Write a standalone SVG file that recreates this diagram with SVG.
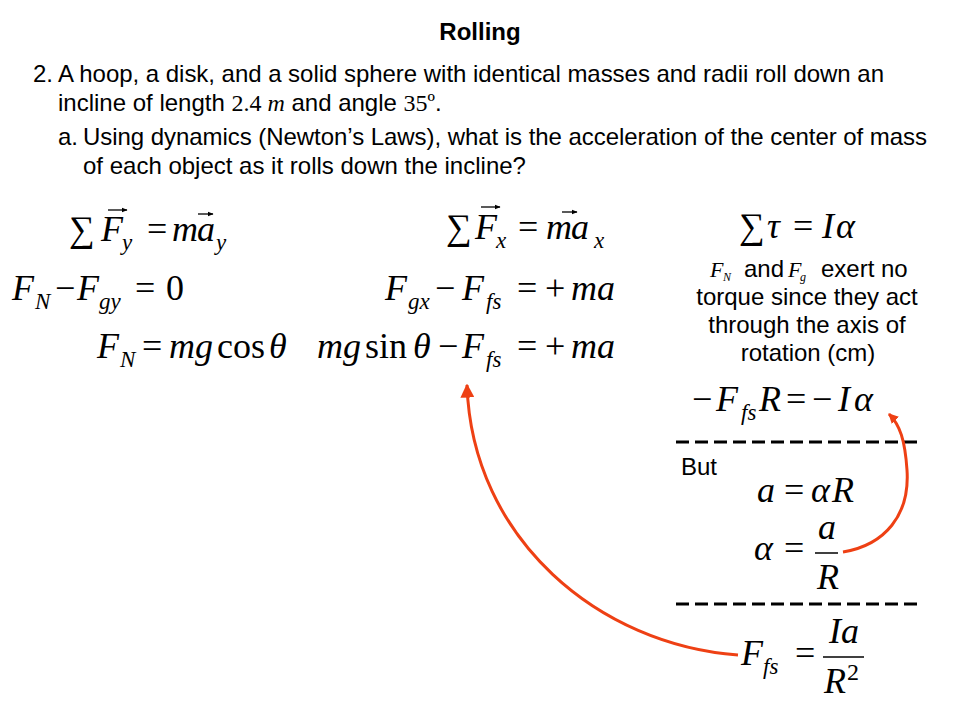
<svg xmlns="http://www.w3.org/2000/svg" width="960" height="720" viewBox="0 0 960 720">
<defs>
<style>
.t{font-family:"Liberation Sans",Arial,sans-serif;font-size:24px;fill:#000}
.b{font-weight:bold}
.tm{font-family:"Liberation Serif","Times New Roman",serif}
.m{font-family:"Liberation Serif","Times New Roman",serif;font-size:36px;font-style:italic;fill:#000}
.n{font-style:normal}
.s{font-size:23px}
.v{stroke:#000;stroke-width:1.3;fill:none}
.dash{stroke:#000;stroke-width:3;stroke-dasharray:13 6;fill:none}
.red{stroke:#EE4014;stroke-width:3;fill:none}
</style>
<marker id="ah" viewBox="0 0 10 10" refX="9" refY="5" markerWidth="14" markerHeight="14" markerUnits="userSpaceOnUse" orient="auto">
<path d="M0,0 L10,5 L0,10 z" fill="#EE4014"/>
</marker>
<marker id="ah2" viewBox="0 0 10 10" refX="9" refY="5" markerWidth="10" markerHeight="10" markerUnits="userSpaceOnUse" orient="auto">
<path d="M0,0 L10,5 L0,10 z" fill="#EE4014"/>
</marker>
<marker id="va" viewBox="0 0 10 10" refX="9" refY="5" markerWidth="6" markerHeight="6" markerUnits="userSpaceOnUse" orient="auto">
<path d="M0,1 L10,5 L0,9 z" fill="#000"/>
</marker>
</defs>
<rect width="960" height="720" fill="#fff"/>

<g id="header">
<text class="t b" x="480" y="40" text-anchor="middle">Rolling</text>
<text class="t" x="33" y="82">2.</text>
<text class="t" x="58" y="82" textLength="826">A hoop, a disk, and a solid sphere with identical masses and radii roll down an</text>
<text class="t" x="58" y="111">incline of length <tspan class="tm">2.4 </tspan><tspan class="tm" font-style="italic">m</tspan> and angle <tspan class="tm">35º</tspan>.</text>
<text class="t" x="58" y="145">a.</text>
<text class="t" x="83" y="145" textLength="844">Using dynamics (Newton’s Laws), what is the acceleration of the center of mass</text>
<text class="t" x="83" y="174">of each object as it rolls down the incline?</text>
</g>

<g id="eq-sum-fy">
<text class="m" y="241"><tspan class="n" x="69">∑</tspan><tspan x="101">F</tspan><tspan class="s" x="122" y="250">y</tspan><tspan class="n" x="147" y="241">=</tspan><tspan x="172">m</tspan><tspan x="197">a</tspan><tspan class="s" x="216" y="250">y</tspan></text>
<path class="v" d="M108,210 H127" marker-end="url(#va)"/>
<path class="v" d="M198,214 H213" marker-end="url(#va)"/>
</g>

<g id="eq-fn-fgy">
<text class="m" y="300"><tspan x="12">F</tspan><tspan class="s" x="35" y="309">N</tspan><tspan class="n" x="55" y="300">−</tspan><tspan x="77">F</tspan><tspan class="s" x="99" y="309">gy</tspan><tspan class="n" x="135" y="300">=</tspan><tspan class="n" x="166">0</tspan></text>
</g>

<g id="eq-fn">
<text class="m" y="358"><tspan x="97">F</tspan><tspan class="s" x="120" y="367">N</tspan><tspan class="n" x="142" y="358">=</tspan><tspan x="169">mg</tspan><tspan class="n" x="217">cos</tspan><tspan x="269">θ</tspan></text>
</g>

<g id="eq-sum-fx">
<text class="m" y="239"><tspan class="n" x="446">∑</tspan><tspan x="475">F</tspan><tspan class="s" x="496" y="248">x</tspan><tspan class="n" x="518" y="239">=</tspan><tspan x="546">m</tspan><tspan x="571">a</tspan><tspan class="s" x="594" y="248">x</tspan></text>
<path class="v" d="M481,207 H500" marker-end="url(#va)"/>
<path class="v" d="M562,212 H577" marker-end="url(#va)"/>
</g>

<g id="eq-fgx">
<text class="m" y="300"><tspan x="385">F</tspan><tspan class="s" x="408" y="309">gx</tspan><tspan class="n" x="435" y="300">−</tspan><tspan x="462">F</tspan><tspan class="s" x="486" y="309">fs</tspan><tspan class="n" x="517" y="300">=</tspan><tspan class="n" x="545">+</tspan><tspan x="571">ma</tspan></text>
</g>

<g id="eq-mgsin">
<text class="m" y="358"><tspan x="317">mg</tspan><tspan class="n" x="365">sin</tspan><tspan x="413">θ</tspan><tspan class="n" x="438">−</tspan><tspan x="462">F</tspan><tspan class="s" x="486" y="367">fs</tspan><tspan class="n" x="517" y="358">=</tspan><tspan class="n" x="545">+</tspan><tspan x="571">ma</tspan></text>
</g>

<g id="eq-torque">
<text class="m" y="238"><tspan class="n" x="739">∑</tspan><tspan x="767">τ</tspan><tspan class="n" x="793">=</tspan><tspan x="822">I</tspan><tspan x="836">α</tspan></text>
</g>

<g id="note">
<text class="t" y="277"><tspan class="m" style="font-size:22px" x="710">F</tspan><tspan class="m" style="font-size:12px" x="723" y="281">N</tspan><tspan x="744" y="277">and</tspan><tspan class="m" style="font-size:22px" x="788">F</tspan><tspan class="m" style="font-size:12px" x="800" y="281">g</tspan><tspan x="821" y="277">exert no</tspan></text>
<text class="t" x="807" y="305" text-anchor="middle">torque since they act</text>
<text class="t" x="807" y="333" text-anchor="middle">through the axis of</text>
<text class="t" x="808" y="361" text-anchor="middle">rotation (cm)</text>
</g>

<g id="eq-ffsR">
<text class="m" y="411"><tspan class="n" x="692">−</tspan><tspan x="716">F</tspan><tspan class="s" x="741" y="420">fs</tspan><tspan x="759" y="411">R</tspan><tspan class="n" x="786">=</tspan><tspan class="n" x="812">−</tspan><tspan x="838">I</tspan><tspan x="854">α</tspan></text>
</g>

<g id="but">
<text class="t" x="681" y="475">But</text>
</g>

<g id="eq-a">
<text class="m" y="502"><tspan x="757">a</tspan><tspan class="n" x="784">=</tspan><tspan x="811">α</tspan><tspan x="832">R</tspan></text>
</g>

<g id="eq-alpha">
<text class="m" y="560"><tspan x="754">α</tspan><tspan class="n" x="784">=</tspan></text>
<text class="m" x="827" y="539" text-anchor="middle">a</text>
<path d="M815,553 H838" stroke="#000" stroke-width="1.5"/>
<text class="m" x="828" y="589" text-anchor="middle">R</text>
</g>

<g id="eq-ffs">
<text class="m" y="665"><tspan x="741">F</tspan><tspan class="s" x="763" y="674">fs</tspan><tspan class="n" x="795" y="665">=</tspan></text>
<text class="m" x="844" y="643" text-anchor="middle">Ia</text>
<path d="M823,657 H864" stroke="#000" stroke-width="1.5"/>
<text class="m" y="693"><tspan x="824">R</tspan><tspan class="n" style="font-size:24px" x="847" y="680">2</tspan></text>
</g>

<g id="dividers">
<path class="dash" d="M676,442 H918"/>
<path class="dash" d="M676,604 H918"/>
</g>

<g id="connectors">
<path class="red" d="M738,655 C600,645 472,540 467,385" marker-end="url(#ah)"/>
<path class="red" d="M843,552 C885,545 910,515 907,470 C905,440 900,425 889,414" marker-end="url(#ah2)"/>
</g>
</svg>
